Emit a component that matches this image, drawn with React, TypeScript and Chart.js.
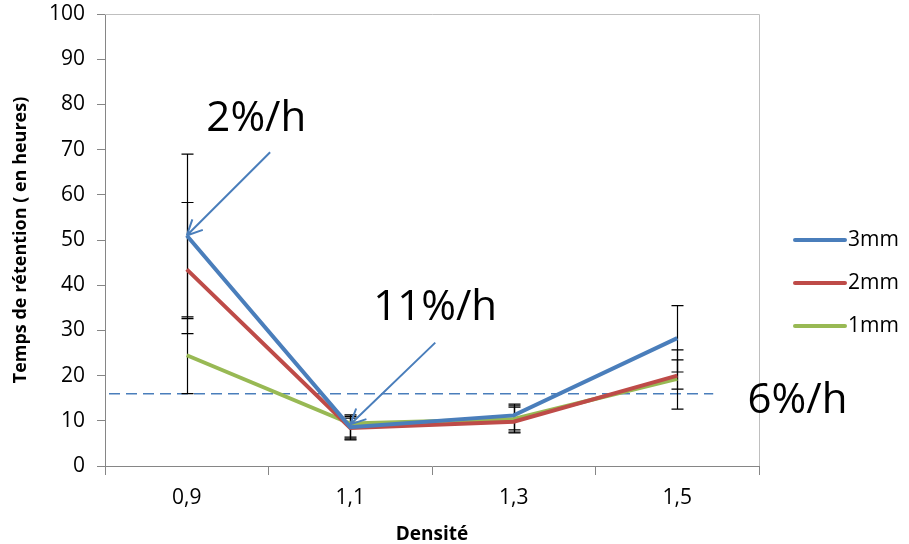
import React, { useEffect, useRef } from "react";
import { Chart, registerables } from "chart.js";

Chart.register(...registerables);

const categories = ["0,9", "1,1", "1,3", "1,5"];
const seriesNames = ["3mm", "2mm", "1mm"];
const values3mm = [51, 8.6, 11.2, 28.3];
const values2mm = [43.5, 8.4, 9.8, 20];
const values1mm = [24.5, 9.4, 10.4, 19.3];
const err3mm: [number, number][] = [[33, 69], [6, 11.3], [8, 13.7], [20.8, 35.5]];
const err2mm: [number, number][] = [[29.3, 58.3], [6.4, 10.6], [7.3, 13], [17, 23.5]];
const err1mm: [number, number][] = [[16, 32.6], [5.8, 11], [7.5, 13.3], [12.6, 25.7]];
const colors = ["#4a7ebb", "#be4b48", "#98b954"];
const thresholdValue = 16;
const thresholdEnd = 3.22; // category index where dashed line ends
const annotations = [
  { text: "2%/h", x: 0.12, y: 74.2 },
  { text: "11%/h", x: 1.14, y: 32.4 },
  { text: "6%/h", x: 3.43, y: 11.8 },
];
const arrows = [
  { from: [0.51, 69.4], to: [0, 51] },
  { from: [1.52, 27.3], to: [1.0, 9.2] },
];

const FONT = "'Open Sans', 'Noto Sans', sans-serif";

export default function App() {
  const ref = useRef<HTMLCanvasElement | null>(null);
  useEffect(() => {
    if (!ref.current) return;
    const errs = [err3mm, err2mm, err1mm];
    const overlay = {
      id: "overlay",
      beforeDatasetsDraw(chart: any) {
        const ctx = chart.ctx;
        const xs = chart.scales.x;
        const ys = chart.scales.y;
        const ca = chart.chartArea;
        ctx.save();
        ctx.strokeStyle = "#bfbfbf";
        ctx.lineWidth = 1;
        ctx.beginPath();
        ctx.moveTo(ca.left, ca.top + 0.5);
        ctx.lineTo(ca.right + 0.5, ca.top + 0.5);
        ctx.lineTo(ca.right + 0.5, ca.bottom);
        ctx.stroke();
        ctx.strokeStyle = "#4a7ebb";
        ctx.lineWidth = 1.5;
        ctx.setLineDash([11, 6]);
        ctx.beginPath();
        const ty = ys.getPixelForValue(thresholdValue);
        ctx.moveTo(ca.left + 4, ty);
        ctx.lineTo(xs.getPixelForValue(thresholdEnd), ty);
        ctx.stroke();
        ctx.setLineDash([]);
        ctx.strokeStyle = "#000";
        ctx.lineWidth = 1.2;
        errs.forEach((arr) => {
          arr.forEach((e, i) => {
            const x = Math.round(xs.getPixelForValue(i)) + 0.5;
            const y1 = ys.getPixelForValue(e[0]);
            const y2 = ys.getPixelForValue(e[1]);
            ctx.beginPath();
            ctx.moveTo(x, y1);
            ctx.lineTo(x, y2);
            ctx.moveTo(x - 6, y1);
            ctx.lineTo(x + 6, y1);
            ctx.moveTo(x - 6, y2);
            ctx.lineTo(x + 6, y2);
            ctx.stroke();
          });
        });
        ctx.restore();
      },
      afterDatasetsDraw(chart: any) {
        const ctx = chart.ctx;
        const xs = chart.scales.x;
        const ys = chart.scales.y;
        ctx.save();
        ctx.strokeStyle = "#4a7ebb";
        ctx.lineWidth = 2;
        arrows.forEach((a) => {
          const x1 = xs.getPixelForValue(a.from[0]);
          const y1 = ys.getPixelForValue(a.from[1]);
          const x2 = xs.getPixelForValue(a.to[0]);
          const y2 = ys.getPixelForValue(a.to[1]);
          ctx.beginPath();
          ctx.moveTo(x1, y1);
          ctx.lineTo(x2, y2);
          const ang = Math.atan2(y2 - y1, x2 - x1);
          const L = 17;
          ctx.moveTo(x2, y2);
          ctx.lineTo(x2 - L * Math.cos(ang - 0.45), y2 - L * Math.sin(ang - 0.45));
          ctx.moveTo(x2, y2);
          ctx.lineTo(x2 - L * Math.cos(ang + 0.45), y2 - L * Math.sin(ang + 0.45));
          ctx.stroke();
        });
        ctx.fillStyle = "#000";
        ctx.font = `42px ${FONT}`;
        ctx.textAlign = "left";
        ctx.textBaseline = "alphabetic";
        annotations.forEach((t) => {
          ctx.fillText(t.text, xs.getPixelForValue(t.x), ys.getPixelForValue(t.y));
        });
        const lx = 795;
        const ly = [240, 283, 326];
        ctx.font = `21px ${FONT}`;
        ctx.textBaseline = "middle";
        chart.data.datasets.forEach((ds: any, i: number) => {
          ctx.strokeStyle = ds.borderColor;
          ctx.lineWidth = 4;
          ctx.lineCap = "round";
          ctx.beginPath();
          ctx.moveTo(lx, ly[i]);
          ctx.lineTo(lx + 50, ly[i]);
          ctx.stroke();
          ctx.fillStyle = "#000";
          ctx.fillText(ds.label, lx + 53, ly[i]);
        });
        ctx.restore();
      },
    };
    const chart = new Chart(ref.current, {
      type: "line",
      data: {
        labels: categories,
        datasets: [values3mm, values2mm, values1mm].map((v, i) => ({
          label: seriesNames[i],
          data: v,
          borderColor: colors[i],
          backgroundColor: colors[i],
          borderWidth: 4,
          pointRadius: 0,
          tension: 0,
          fill: false,
        })),
      },
      options: {
        animation: false,
        responsive: false,
        layout: { padding: { top: 14, right: 150, left: 0, bottom: 0 } },
        plugins: { legend: { display: false }, tooltip: { enabled: false } },
        scales: {
          x: {
            offset: true,
            grid: { offset: true, drawOnChartArea: false, drawTicks: true, tickLength: 9, color: "#868686" },
            border: { color: "#868686" },
            ticks: { color: "#000", font: { family: FONT, size: 21 }, padding: 10 },
            title: {
              display: true,
              text: "Densité",
              color: "#000",
              font: { family: FONT, size: 19, weight: "bold" },
              padding: { top: 7, bottom: -2 },
            },
            afterFit(scale: any) {
              scale.height = 78;
              scale.paddingLeft = 0;
              scale.paddingRight = 0;
            },
          },
          y: {
            min: 0,
            max: 100,
            ticks: { stepSize: 10, color: "#000", font: { family: FONT, size: 21 }, padding: 12 },
            grid: { drawOnChartArea: false, drawTicks: true, tickLength: 8, color: "#868686" },
            border: { color: "#868686" },
            title: {
              display: true,
              text: "Temps de rétention ( en heures)",
              color: "#000",
              font: { family: FONT, size: 18, weight: "bold" },
              padding: { top: 10, bottom: 0 },
            },
            afterFit(scale: any) {
              scale.width = 105;
              scale.paddingTop = 0;
              scale.paddingBottom = 0;
            },
          },
        },
      },
      plugins: [overlay],
    });
    return () => chart.destroy();
  }, []);
  return (
    <div style={{ position: "absolute", left: 0, top: 0, width: 909, height: 544, background: "#fff" }}>
      <canvas ref={ref} width={909} height={544} />
    </div>
  );
}
